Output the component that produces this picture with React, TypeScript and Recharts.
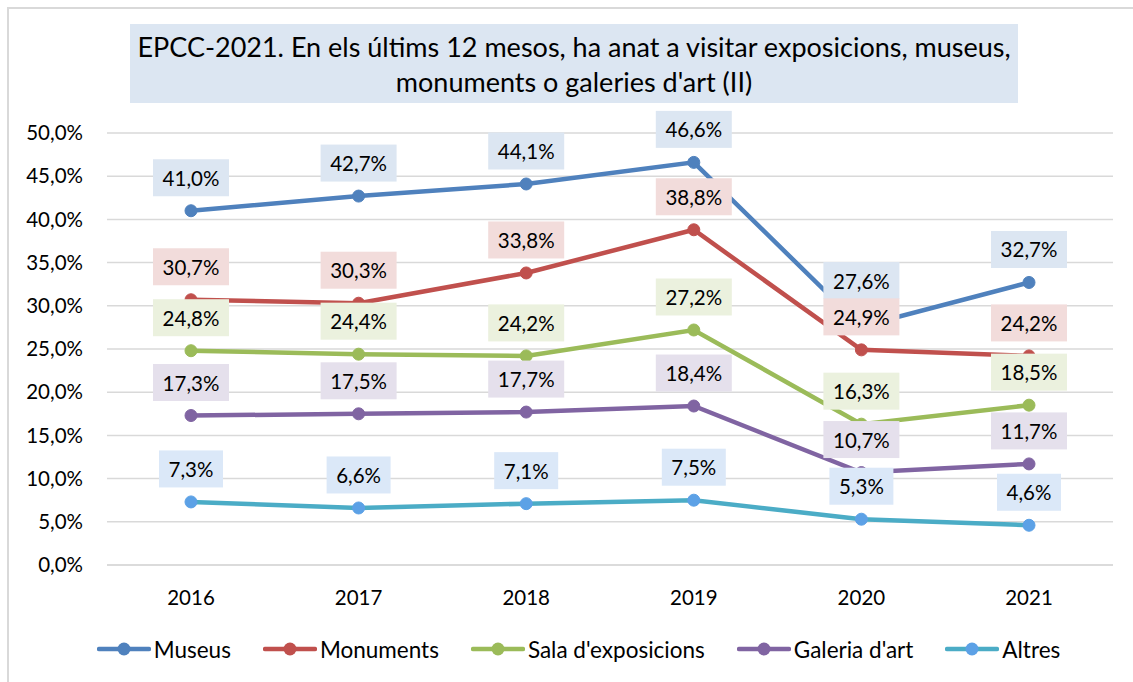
import React from 'react';
import { LineChart, Line, XAxis, YAxis, CartesianGrid, Legend, LabelList } from 'recharts';

const years = ['2016', '2017', '2018', '2019', '2020', '2021'];
const museus = [41.0, 42.7, 44.1, 46.6, 27.6, 32.7];
const monuments = [30.7, 30.3, 33.8, 38.8, 24.9, 24.2];
const sala = [24.8, 24.4, 24.2, 27.2, 16.3, 18.5];
const galeria = [17.3, 17.5, 17.7, 18.4, 10.7, 11.7];
const altres = [7.3, 6.6, 7.1, 7.5, 5.3, 4.6];
const yTicks = [0, 5, 10, 15, 20, 25, 30, 35, 40, 45, 50];

const titleLines = [
  "EPCC-2021. En els últims 12 mesos, ha anat a visitar exposicions, museus,",
  "monuments o galeries d'art (II)",
];

const data = years.map((y, i) => ({
  year: y,
  museus: museus[i],
  monuments: monuments[i],
  sala: sala[i],
  galeria: galeria[i],
  altres: altres[i],
}));

const FONT = 'Lato, "Open Sans", sans-serif';

const series = [
  { key: 'museus', name: 'Museus', color: '#4f81bd', dotFill: '#4f81bd', bg: '#dce6f2' },
  { key: 'monuments', name: 'Monuments', color: '#c0504d', dotFill: '#c0504d', bg: '#f2dcdb' },
  { key: 'sala', name: "Sala d'exposicions", color: '#9bbb59', dotFill: '#9bbb59', bg: '#ebf1de' },
  { key: 'galeria', name: "Galeria d'art", color: '#8064a2', dotFill: '#8064a2', bg: '#e5e0ec' },
  { key: 'altres', name: 'Altres', color: '#4bacc6', dotFill: '#5ca1e6', bg: '#dbe8f8' },
];

const fmt = (v: number) => v.toFixed(1).replace('.', ',') + '%';

const makeLabel = (bg: string, extraLift: (i: number) => number) => (props: any) => {
  const { x, y, value, index } = props;
  if (x == null || y == null || value == null) return null;
  const txt = fmt(Number(value));
  const w = txt.length * 12 + 16;
  const h = 37;
  const cy = y - 33 - extraLift(index);
  return (
    <g>
      <rect x={x - w / 2} y={cy - h / 2} width={w} height={h} fill={bg} />
      <text
        x={x}
        y={cy}
        textAnchor="middle"
        dominantBaseline="central"
        fontFamily={FONT}
        fontSize={20.5}
        fill="#000"
      >
        {txt}
      </text>
    </g>
  );
};

const noLift = () => 0;
const museusLift = (i: number) => (i === 4 ? 13 : 0);

const LegendContent = () => (
  <div
    style={{
      display: 'flex',
      justifyContent: 'center',
      alignItems: 'center',
      height: 30,
      paddingLeft: 24,
      boxSizing: 'border-box',
      fontFamily: FONT,
      fontSize: 22.5,
      color: '#000',
    }}
  >
    {series.map((s) => (
      <div key={s.key} style={{ display: 'flex', alignItems: 'center', margin: '0 16px' }}>
        <svg width={54} height={16} style={{ marginRight: 3 }}>
          <line x1={2} y1={8} x2={52} y2={8} stroke={s.color} strokeWidth={4.5} strokeLinecap="round" />
          <circle cx={27} cy={8} r={6.5} fill={s.dotFill} />
        </svg>
        <span>{s.name}</span>
      </div>
    ))}
  </div>
);

export default function App() {
  return (
    <div
      style={{
        position: 'absolute',
        left: 0,
        top: 0,
        width: 1133,
        height: 682,
        overflow: 'hidden',
        background: '#fff',
      }}
    >
      <div
        style={{
          position: 'absolute',
          left: 7,
          top: 7,
          width: 1160,
          height: 720,
          border: '2px solid #d9d9d9',
          boxSizing: 'border-box',
        }}
      />
      <div style={{ position: 'absolute', left: 0, top: 0 }}>
        <LineChart width={1133} height={682} data={data} margin={{ top: 133, right: 20, left: 0, bottom: 57 }}>
          <CartesianGrid vertical={false} stroke="#d9d9d9" strokeWidth={1.5} />
          <XAxis
            dataKey="year"
            padding={{ left: 84, right: 84 }}
            axisLine={{ stroke: '#d9d9d9', strokeWidth: 1.5 }}
            tickLine={false}
            tickSize={6}
            tickMargin={19}
            height={30}
            tick={{ fontFamily: FONT, fontSize: 20.5, fill: '#000' }}
          />
          <YAxis
            domain={[0, 50]}
            ticks={yTicks}
            width={107}
            axisLine={false}
            tickLine={false}
            tickSize={6}
            tickMargin={18}
            tickFormatter={(v: number) => fmt(v)}
            tick={{ fontFamily: FONT, fontSize: 20.5, fill: '#000' }}
          />
          <Legend
            verticalAlign="bottom"
            content={<LegendContent />}
            wrapperStyle={{ bottom: 18, left: 0, width: 1133 }}
          />
          {series.map((s) => (
            <Line
              key={s.key}
              dataKey={s.key}
              name={s.name}
              stroke={s.color}
              strokeWidth={4.5}
              dot={{ r: 6, fill: s.dotFill, stroke: s.dotFill, strokeWidth: 1 }}
              activeDot={false}
              isAnimationActive={false}
            >
              <LabelList dataKey={s.key} content={makeLabel(s.bg, s.key === 'museus' ? museusLift : noLift)} />
            </Line>
          ))}
        </LineChart>
      </div>
      <div
        style={{
          position: 'absolute',
          left: 130,
          top: 24,
          width: 888,
          height: 79,
          background: '#dce6f2',
          boxSizing: 'border-box',
          paddingTop: 5,
          textAlign: 'center',
          fontFamily: FONT,
          fontSize: 27,
          lineHeight: '35px',
          color: '#000',
          whiteSpace: 'nowrap',
        }}
      >
        {titleLines.map((l) => (
          <div key={l}>{l}</div>
        ))}
      </div>
    </div>
  );
}
